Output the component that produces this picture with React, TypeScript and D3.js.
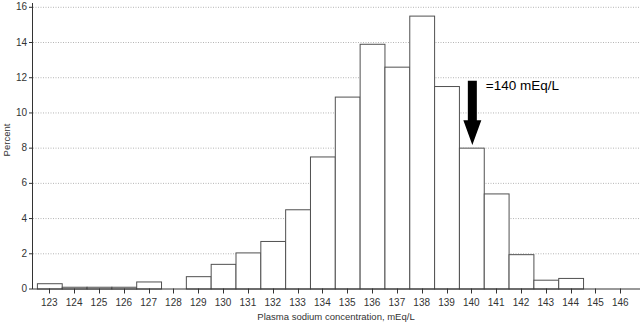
import React, { useRef, useEffect } from 'react';
import * as d3 from 'd3';

// sodium bins (mEq/L) and percent of patients
const sodium = [123, 124, 125, 126, 127, 128, 129, 130, 131, 132, 133, 134, 135, 136, 137, 138, 139, 140, 141, 142, 143, 144, 145, 146];
const percent = [0.3, 0.1, 0.1, 0.1, 0.4, 0, 0.7, 1.4, 2.05, 2.7, 4.5, 7.5, 10.9, 13.9, 12.6, 15.5, 11.5, 8.0, 5.4, 1.95, 0.5, 0.6, 0, 0];
const yTicks = [0, 2, 4, 6, 8, 10, 12, 14, 16];
const arrowAt = 140;
const arrowLabel = '=140 mEq/L';

function App() {
  const ref = useRef<SVGSVGElement>(null);
  const width = 640, height = 323;
  const left = 32, right = 640, top = 6.8, bottom = 288.5;

  useEffect(() => {
    const svg = d3.select(ref.current);
    svg.selectAll('*').remove();

    const x = d3.scaleLinear().domain([122.5, 146.5]).range([36.9, 632.7]);
    const y = d3.scaleLinear().domain([0, 16]).range([bottom, top]);
    const font = 'Liberation Sans, Arial, sans-serif';

    // dotted grid
    svg.selectAll('line.grid')
      .data(yTicks.filter(d => d > 0))
      .enter().append('line')
      .attr('x1', left + 1).attr('x2', right)
      .attr('y1', d => y(d) + 0.5).attr('y2', d => y(d) + 0.5)
      .attr('stroke', '#b5b5b5')
      .attr('stroke-dasharray', '1,1.5');

    // bars
    const data = sodium.map((s, i) => ({ s, v: percent[i] })).filter(d => d.v > 0);
    svg.selectAll('rect')
      .data(data)
      .enter().append('rect')
      .attr('x', d => x(d.s - 0.5) + 0.5)
      .attr('y', d => y(d.v) + 0.5)
      .attr('width', d => x(d.s + 0.5) - x(d.s - 0.5))
      .attr('height', d => y(0) - y(d.v))
      .attr('fill', 'white')
      .attr('stroke', '#505050')
      .attr('stroke-width', 1);

    // y axis
    svg.append('line')
      .attr('x1', left + 0.5).attr('x2', left + 0.5)
      .attr('y1', 3).attr('y2', bottom + 0.5)
      .attr('stroke', '#333');
    svg.selectAll('line.yt')
      .data(yTicks)
      .enter().append('line')
      .attr('x1', left - 3).attr('x2', left)
      .attr('y1', d => y(d) + 0.5).attr('y2', d => y(d) + 0.5)
      .attr('stroke', '#333');
    svg.selectAll('text.yl')
      .data(yTicks)
      .enter().append('text')
      .attr('x', left - 5)
      .attr('y', d => y(d))
      .attr('dy', '0.35em')
      .attr('text-anchor', 'end')
      .attr('font-size', '10px')
      .attr('font-family', font)
      .attr('fill', '#333')
      .text(d => d);

    // x axis
    svg.append('line')
      .attr('x1', left).attr('x2', right)
      .attr('y1', bottom + 0.5).attr('y2', bottom + 0.5)
      .attr('stroke', '#333');
    svg.selectAll('line.xt')
      .data(sodium)
      .enter().append('line')
      .attr('x1', d => Math.round(x(d)) + 0.5).attr('x2', d => Math.round(x(d)) + 0.5)
      .attr('y1', bottom).attr('y2', bottom + 5)
      .attr('stroke', '#333');
    svg.selectAll('text.xl')
      .data(sodium)
      .enter().append('text')
      .attr('x', d => x(d))
      .attr('y', 306)
      .attr('text-anchor', 'middle')
      .attr('font-size', '10px')
      .attr('font-family', font)
      .attr('fill', '#333')
      .text(d => d);

    // axis titles
    svg.append('text')
      .attr('x', (left + right) / 2)
      .attr('y', 319.5)
      .attr('text-anchor', 'middle')
      .attr('font-size', '9.5px')
      .attr('font-family', font)
      .attr('fill', '#333')
      .text('Plasma sodium concentration, mEq/L');
    svg.append('text')
      .attr('transform', 'translate(10,140) rotate(-90)')
      .attr('text-anchor', 'middle')
      .attr('font-size', '9.5px')
      .attr('font-family', font)
      .attr('fill', '#333')
      .text('Percent');

    // arrow pointing at 140
    const ax = x(arrowAt) + 1;
    const tip = y(8.15), headTop = y(9.55), shaftTop = y(11.8);
    const arrow = d3.path();
    arrow.moveTo(ax - 4.5, shaftTop);
    arrow.lineTo(ax + 4.5, shaftTop);
    arrow.lineTo(ax + 4.5, headTop);
    arrow.lineTo(ax + 9, headTop);
    arrow.lineTo(ax, tip);
    arrow.lineTo(ax - 9, headTop);
    arrow.lineTo(ax - 4.5, headTop);
    arrow.closePath();
    svg.append('path').attr('d', arrow.toString()).attr('fill', 'black');
    svg.append('text')
      .attr('x', ax + 13.5)
      .attr('y', 89.5)
      .attr('font-size', '13.5px')
      .attr('font-family', font)
      .attr('fill', 'black')
      .text(arrowLabel);
  }, []);

  return (
    <svg ref={ref} width={width} height={height}
      style={{ position: 'absolute', left: 0, top: 0, background: 'white' }} />
  );
}

export default App;
